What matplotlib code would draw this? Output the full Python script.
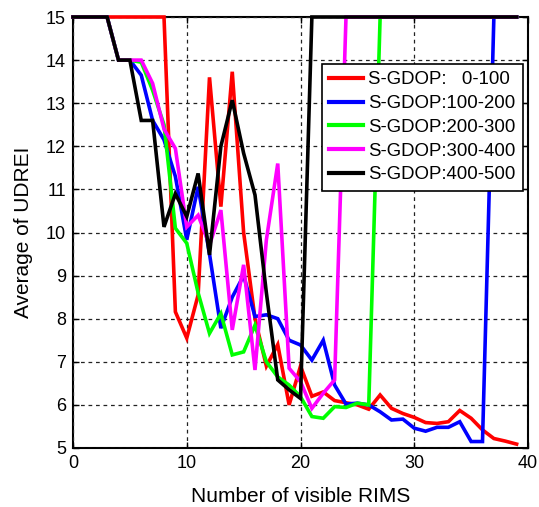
import matplotlib
matplotlib.use("Agg")
import matplotlib.pyplot as plt
import numpy as np

plt.rcParams['font.family'] = ['Liberation Sans', 'DejaVu Sans']

x = list(range(40))

red_0_100 = [15, 15, 15, 15, 15, 15, 15, 15, 15, 8.16,
             7.55, 8.55, 13.6, 10.6, 13.73, 10.0, 8.0, 6.9, 7.4, 6.0,
             6.9, 6.2, 6.3, 6.1, 6.05, 6.0, 5.9, 6.23, 5.92, 5.8,
             5.71, 5.59, 5.57, 5.61, 5.87, 5.69, 5.42, 5.22, 5.16, 5.09]
blue_100_200 = [15, 15, 15, 15, 14.0, 14.0, 13.65, 12.6, 12.15, 11.3,
                9.83, 11.06, 9.5, 7.78, 8.5, 9.0, 8.05, 8.09, 8.0, 7.5,
                7.39, 7.04, 7.5, 6.46, 6.02, 6.04, 6.0, 5.84, 5.65, 5.67,
                5.46, 5.39, 5.48, 5.48, 5.61, 5.15, 5.15, 15, 15, 15]
green_200_300 = [15, 15, 15, 15, 14.0, 14.0, 13.95, 13.3, 12.5, 10.1,
                 9.75, 8.6, 7.66, 8.12, 7.16, 7.23, 7.85, 7.0, 6.65, 6.46,
                 6.19, 5.73, 5.69, 5.96, 5.94, 6.04, 6.0, 15, 15, 15,
                 15, 15, 15, 15, 15, 15, 15, 15, 15, 15]
magenta_300_400 = [15, 15, 15, 15, 14.0, 14.0, 14.0, 13.46, 12.4, 11.95,
                   10.13, 10.4, 9.71, 10.52, 7.74, 9.25, 6.81, 9.83, 11.6, 6.85,
                   6.54, 5.92, 6.27, 6.58, 15, 15, 15, 15, 15, 15,
                   15, 15, 15, 15, 15, 15, 15, 15, 15, 15]
black_400_500 = [15, 15, 15, 15, 14.0, 14.0, 12.6, 12.6, 10.13, 10.9,
                 10.37, 11.37, 9.48, 12.0, 13.07, 11.84, 10.87, 8.6, 6.58, 6.35,
                 6.15, 15, 15, 15, 15, 15, 15, 15, 15, 15,
                 15, 15, 15, 15, 15, 15, 15, 15, 15, 15]

labels = ['S-GDOP:   0-100', 'S-GDOP:100-200', 'S-GDOP:200-300',
          'S-GDOP:300-400', 'S-GDOP:400-500']
colors = ['#ff0000', '#0000ff', '#00ff00', '#ff00ff', '#000000']
series = [red_0_100, blue_100_200, green_200_300, magenta_300_400, black_400_500]

xticks = [0, 10, 20, 30, 40]
yticks = list(range(5, 16))

fig = plt.figure(figsize=(5.39, 5.07), dpi=100)
ax = fig.add_axes([73/539, 1-448/507, (528-73)/539, (448-17)/507])

for s, c, l in zip(series, colors, labels):
    ax.plot(x, s, color=c, lw=2.6, label=l, clip_on=False, solid_joinstyle='miter')

ax.set_xlim(0, 40)
ax.set_ylim(5, 15)
ax.set_xticks(xticks)
ax.set_yticks(yticks)
ax.tick_params(direction='in', length=4, width=1, labelsize=13,
               top=True, right=True, pad=5)
ax.grid(True, color='#222222', linestyle=(0, (3, 3)), linewidth=0.9)
for sp in ax.spines.values():
    sp.set_linewidth(1.5)
    sp.set_zorder(1)

ax.set_xlabel('Number of visible RIMS', fontsize=15, labelpad=11)
ax.set_ylabel('Average of UDREI', fontsize=15, labelpad=9)

leg = ax.legend(loc='upper right', bbox_to_anchor=(523/539, 1-64/507),
                bbox_transform=fig.transFigure, borderaxespad=0,
                fontsize=13.4, frameon=True, fancybox=False, framealpha=1,
                edgecolor='black', handlelength=1.8, handletextpad=0.3,
                labelspacing=0.36, borderpad=0.4)
leg.get_frame().set_linewidth(1.2)
for h in leg.get_lines():
    h.set_linewidth(3)

fig.savefig('out.png', dpi=100)
